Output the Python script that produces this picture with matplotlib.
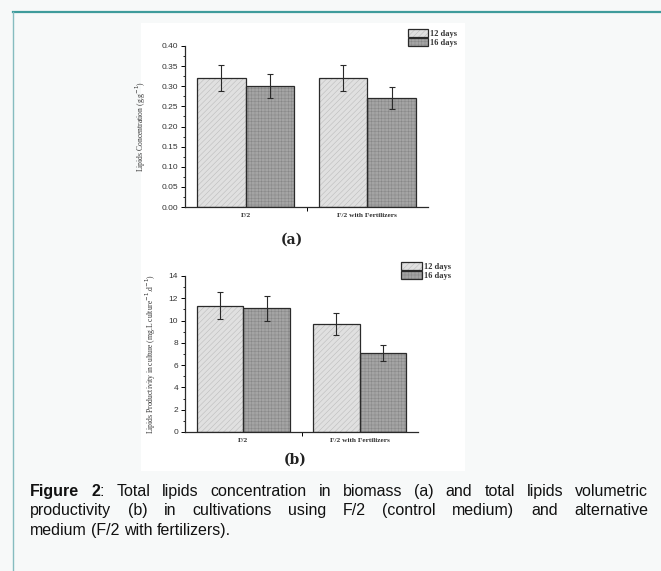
import numpy as np
import matplotlib
matplotlib.use('Agg')
import matplotlib.pyplot as plt
from matplotlib.lines import Line2D
from matplotlib.patches import Rectangle
from matplotlib.legend_handler import HandlerTuple

# data
groups = ['F/2', 'F/2 with Fertilizers']
series = ['12 days', '16 days']
conc_12 = [0.32, 0.32]
conc_16 = [0.30, 0.27]
conc_12_err = [0.032, 0.032]
conc_16_err = [0.030, 0.027]
prod_12 = [11.35, 9.7]
prod_16 = [11.1, 7.1]
prod_12_err = [1.2, 0.95]
prod_16_err = [1.1, 0.75]

W, H = 661, 571
plt.rcParams['hatch.linewidth'] = 0.35

fig = plt.figure(figsize=(W / 100, H / 100), dpi=100)
fig.patch.set_facecolor('#f7f9f9')

# teal frame + white picture area
fig.add_artist(Line2D([13 / W, 1], [1 - 12 / H] * 2, color='#3f9c9c', lw=1.6))
fig.add_artist(Line2D([13 / W] * 2, [0, 1 - 12 / H], color='#86bcc0', lw=1.0))
fig.add_artist(Rectangle((141 / W, 1 - 471 / H), (465 - 141) / W, (471 - 23) / H,
                         transform=fig.transFigure, facecolor='white',
                         edgecolor='none', zorder=-5))

serif = 'Liberation Serif'
sans = 'Liberation Sans'


def panel(px, v12, e12, v16, e16, ymax, step, ylabel, lab_x, leg_xy, leg_len):
    l, r, t, b = px
    ax = fig.add_axes([l / W, 1 - b / H, (r - l) / W, (b - t) / H])
    ax.set_facecolor('none')
    x = np.arange(1, len(groups) + 1)
    w = 0.4
    f12 = ax.bar(x - w / 2, v12, w, color='#e0e0e0', edgecolor='#b8b8b8',
                 hatch='//////', lw=0)
    f16 = ax.bar(x + w / 2, v16, w, color='#a4a4a4', edgecolor='#878787',
                 hatch='+++++', lw=0)
    o12 = ax.bar(x - w / 2, v12, w, fill=False, edgecolor='#2a2a2a', lw=0.9)
    o16 = ax.bar(x + w / 2, v16, w, fill=False, edgecolor='#2a2a2a', lw=0.9)
    ax.errorbar(x - w / 2, v12, yerr=e12, fmt='none', ecolor='#2a2a2a',
                elinewidth=0.8, capsize=2, capthick=0.8)
    ax.errorbar(x + w / 2, v16, yerr=e16, fmt='none', ecolor='#2a2a2a',
                elinewidth=0.8, capsize=2, capthick=0.8)

    ax.set_xlim(0.5, 2.5)
    ax.set_ylim(0, ymax)
    ax.spines['top'].set_visible(False)
    ax.spines['right'].set_visible(False)
    for s in ('left', 'bottom'):
        ax.spines[s].set_linewidth(0.9)
        ax.spines[s].set_color('#2a2a2a')
    ax.set_yticks(np.arange(0, ymax + step / 2, step))
    ax.set_yticks(np.arange(step / 2, ymax, step), minor=True)
    ax.set_xticks(x)
    ax.set_xticks([1.5], minor=True)
    ax.set_xticklabels(groups, fontsize=5.3, family=serif, fontweight='bold',
                       color='#333333')
    ax.tick_params(axis='x', which='major', length=0, pad=4)
    ax.tick_params(axis='x', which='minor', length=3, width=0.7, direction='out')
    ax.tick_params(axis='y', which='major', length=3, width=0.7,
                   direction='out', labelsize=6, pad=2, labelcolor='#333333')
    ax.tick_params(axis='y', which='minor', length=1.5, width=0.6, direction='out')
    for lbl in ax.get_yticklabels():
        lbl.set_family(sans)
    ax.set_ylabel(ylabel, fontsize=5.5, family=serif, color='#333333')
    ax.yaxis.set_label_coords((lab_x - l) / (r - l), 0.5)

    leg = fig.legend([(f12, o12), (f16, o16)], series,
                     handler_map={tuple: HandlerTuple(ndivide=1, pad=0)},
                     loc='upper left', bbox_to_anchor=(leg_xy[0] / W, 1 - leg_xy[1] / H),
                     frameon=False, borderpad=0, borderaxespad=0,
                     handlelength=leg_len, handleheight=1.1, labelspacing=0,
                     handletextpad=0.3,
                     prop={'family': serif, 'weight': 'bold', 'size': 6})
    for txt in leg.get_texts():
        txt.set_color('#333333')
    return ax


ax_a = panel((185, 428, 46, 207), conc_12, conc_12_err, conc_16, conc_16_err,
             0.40, 0.05, 'Lipids Concentration (g.g$^{-1}$)', 148, (408, 29), 2.4)
ax_a.yaxis.set_major_formatter(matplotlib.ticker.FormatStrFormatter('%.2f'))
ax_b = panel((185, 418, 276, 432), prod_12, prod_12_err, prod_16, prod_16_err,
             14, 2, 'Lipids Productivity in culture (mg.L culture$^{-1}$.d$^{-1}$)',
             158, (401, 262), 2.5)
ax_b.set_yticks(np.arange(1, 14, 2), minor=True)

fig.text(292 / W, 1 - 240 / H, '(a)', ha='center', va='center', fontsize=10,
         family='DejaVu Serif', fontweight='bold', color='#222222')
fig.text(295 / W, 1 - 460 / H, '(b)', ha='center', va='center', fontsize=10,
         family='DejaVu Serif', fontweight='bold', color='#222222')

# caption, justified like the source page
cap_lines = [
    [[('Figure', 'bold')], [('2', 'bold'), (':', 'normal')]] +
    [[(wd, 'normal')] for wd in 'Total lipids concentration in biomass (a) and total lipids volumetric'.split()],
    [[(wd, 'normal')] for wd in 'productivity (b) in cultivations using F/2 (control medium) and alternative'.split()],
    [[(wd, 'normal')] for wd in 'medium (F/2 with fertilizers).'.split()],
]
cap_base = [496, 515, 535]
x0, x1 = 30, 648
fsize = 11.5
renderer = fig.canvas.get_renderer()


def seg_width(s, weight):
    t = fig.text(0, 0, s, fontsize=fsize, family=sans, fontweight=weight)
    wpx = t.get_window_extent(renderer).width
    t.remove()
    return wpx


space_w = 0.278 * fsize * 100 / 72
for i, (words, yy) in enumerate(zip(cap_lines, cap_base)):
    widths = [sum(seg_width(s, wt) for s, wt in word) for word in words]
    if i < len(cap_lines) - 1:
        gap = (x1 - x0 - sum(widths)) / (len(words) - 1)
    else:
        gap = space_w
    xpos = x0
    for word, wd in zip(words, widths):
        xx = xpos
        for s, wt in word:
            fig.text(xx / W, 1 - yy / H, s, fontsize=fsize, family=sans,
                     fontweight=wt, va='baseline', ha='left', color='#111111')
            xx += seg_width(s, wt)
        xpos += wd + gap

fig.savefig('out.png', dpi=100, facecolor=fig.get_facecolor())
